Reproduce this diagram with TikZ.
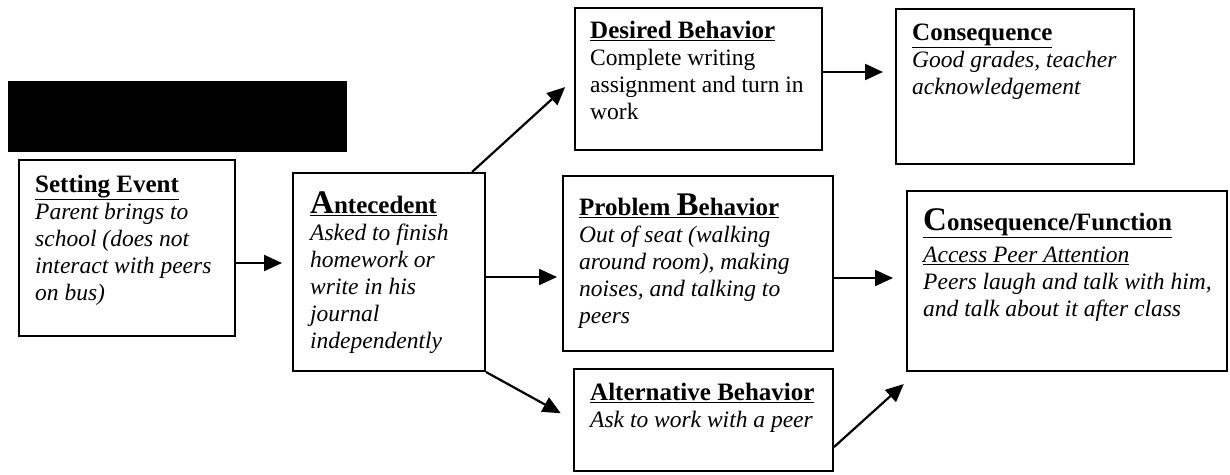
\documentclass[tikz,border=0pt]{standalone}
\usepackage{fontspec}
\setmainfont{Liberation Serif}
\usetikzlibrary{arrows.meta}

\newcommand{\head}[1]{\underline{\fontsize{25}{27}\selectfont\textbf{#1}}}
\newcommand{\firstcap}[1]{{\fontsize{33}{27}\selectfont #1}}
\newcommand{\topstrut}{\rule{0pt}{24pt}}

\begin{document}
\begin{tikzpicture}[x=1pt,y=-1pt,
	frame/.style={draw,line width=2pt,anchor=north west,inner sep=0pt},
	words/.style={anchor=north west,inner sep=0pt,align=left,font=\fontsize{23.5}{27}\selectfont},
	arr/.style={line width=2.2pt,-{Triangle[length=18pt,width=16pt]}}]
			\useasboundingbox (0,0) rectangle (1230,474);
			\fill (8,81) rectangle (347,152);
			% boxes
			\node[frame,minimum width=216pt,minimum height=176pt] (setev) at (18,159) {};
			\node[frame,minimum width=192pt,minimum height=198pt] (ant) at (292,172) {};
			\node[frame,minimum width=247pt,minimum height=142pt] (des) at (574,7) {};
			\node[frame,minimum width=238pt,minimum height=155pt] (con) at (895,8) {};
			\node[frame,minimum width=270pt,minimum height=175pt] (prob) at (562,175) {};
			\node[frame,minimum width=259pt,minimum height=102pt] (alt) at (573,368) {};
			\node[frame,minimum width=320pt,minimum height=180pt] (cf) at (906,190) {};
			% texts
			\node[words] (setevtxt) at (35,168) {\topstrut\head{Setting Event}\\
				\textit{Parent brings to}\\ \textit{school (does not}\\
				\textit{interact with peers}\\ \textit{on bus)}};
			\node[words] (anttxt) at (310,189) {\topstrut\head{\firstcap{A}ntecedent}\\
				\textit{Asked to finish}\\ \textit{homework or}\\ \textit{write in his}\\
				\textit{journal}\\ \textit{independently}};
			\node[words] (destxt) at (590,14) {\topstrut\head{Desired Behavior}\\
				Complete writing\\ assignment and turn in\\ work};
			\node[words] (contxt) at (912,16) {\topstrut\head{Consequence}\\
				\textit{Good grades, teacher}\\ \textit{acknowledgement}};
			\node[words] (probtxt) at (579,191) {\topstrut\head{Problem \firstcap{B}ehavior}\\
				\textit{Out of seat (walking}\\ \textit{around room), making}\\
				\textit{noises, and talking to}\\ \textit{peers}};
			\node[words] (alttxt) at (590,376) {\topstrut\head{Alternative Behavior}\\
				\textit{Ask to work with a peer}};
			\node[words] (cftxt) at (923,206) {\topstrut\head{\firstcap{C}onsequence/Function}\\[5pt]
				\underline{\textit{Access Peer Attention}}\\
				\textit{Peers laugh and talk with him,}\\ \textit{and talk about it after class}};
			% arrows
			\draw[arr,shorten >=10pt] (setev.east |- 0,263) -- (ant.west |- 0,263);
			\draw[arr,shorten >=5pt] (ant.east |- 0,277) -- (prob.west |- 0,277);
			\draw[arr,shorten >=13pt] (prob.east |- 0,278) -- (cf.west |- 0,278);
			\draw[arr,shorten >=12pt] (des.east |- 0,72) -- (con.west |- 0,72);
			\draw[arr,shorten >=12pt] (472,0 |- ant.north) -- (des.west);
			\draw[arr,shorten >=14pt] (ant.south east) -- (alt.west);
			\draw[arr,shorten >=3pt] (alt.east |- 0,447) -- (cf.south west |- 0,382);
			\end{tikzpicture}
\end{document}
